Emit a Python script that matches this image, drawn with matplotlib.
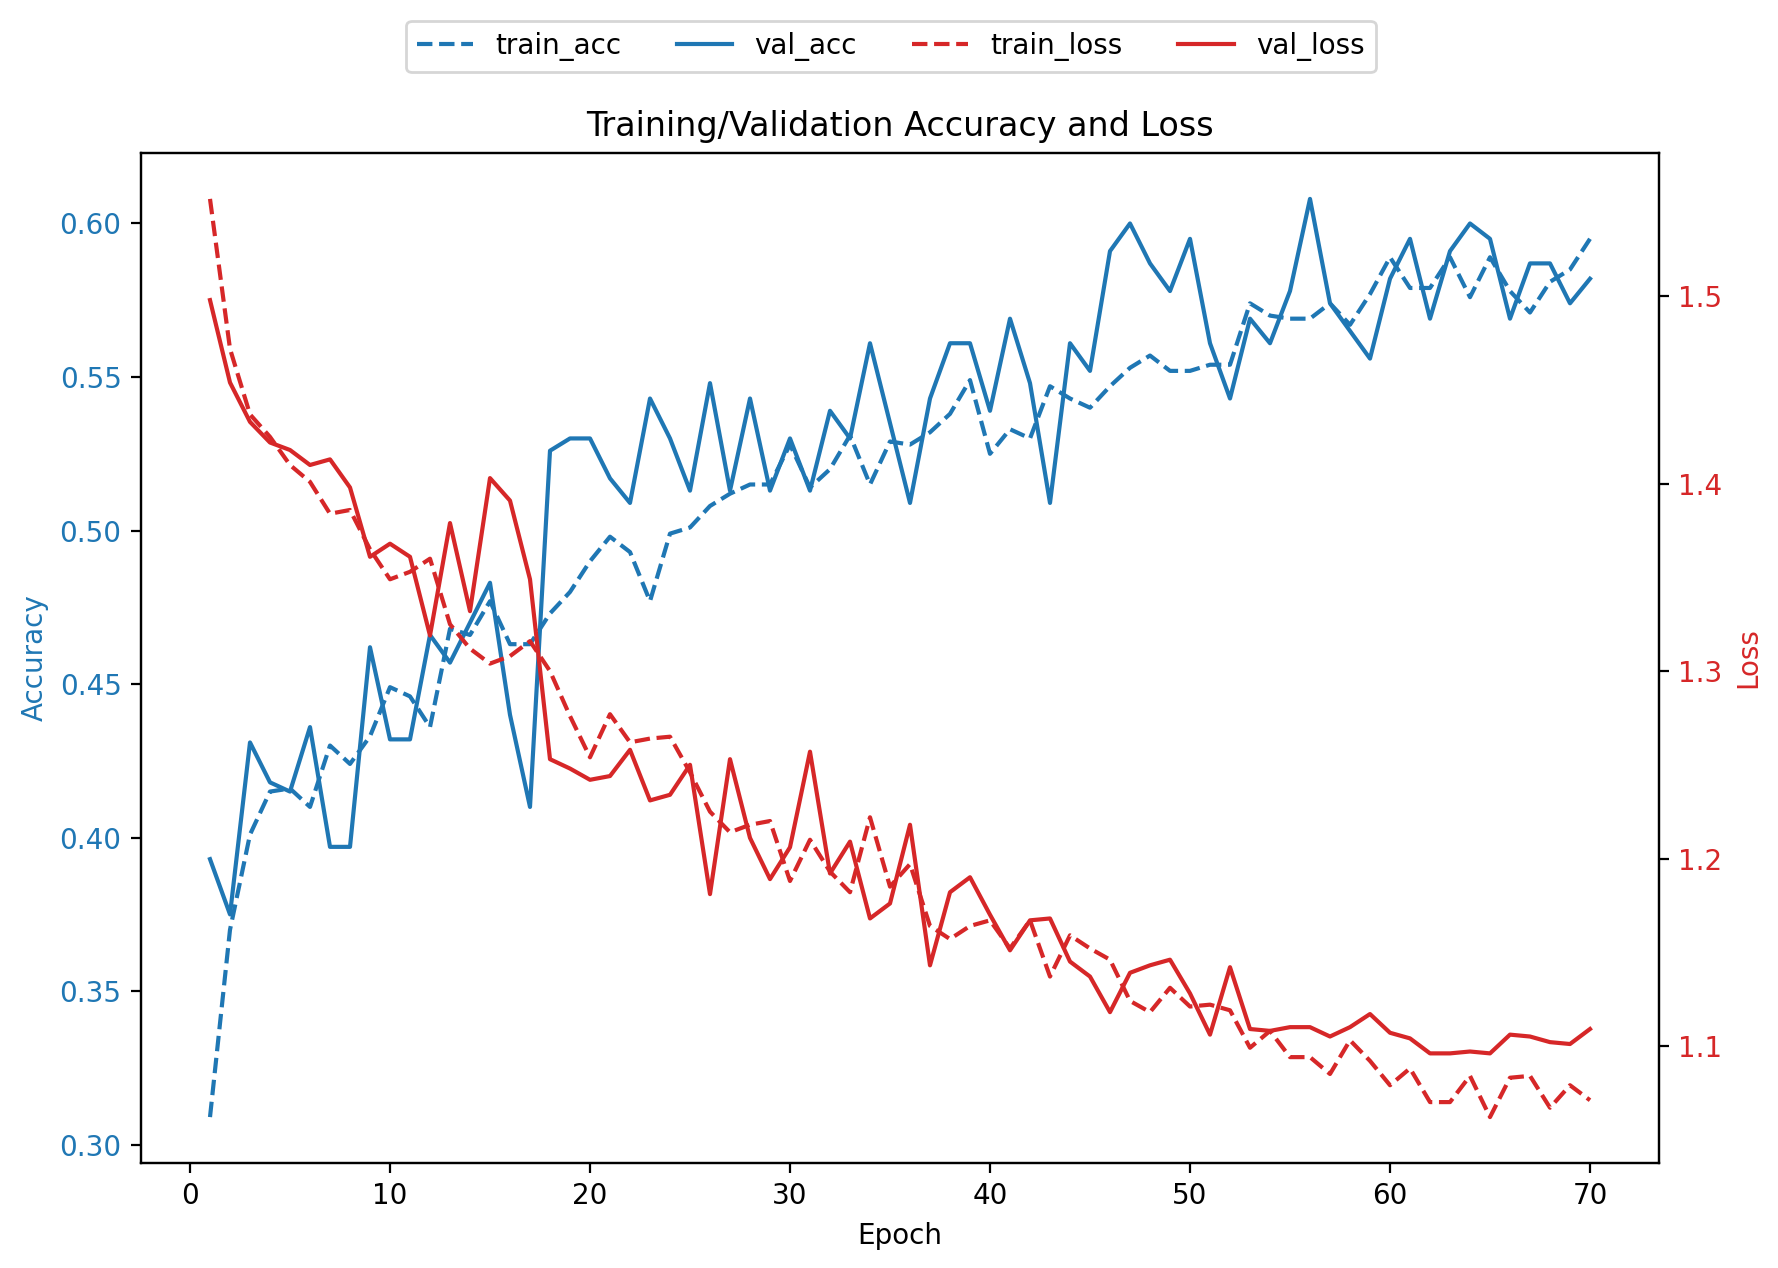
import numpy as np
import matplotlib
matplotlib.use("Agg")
import matplotlib.pyplot as plt

epochs = list(range(1, 71))

train_acc = [0.309, 0.370, 0.401, 0.415, 0.416, 0.410, 0.430, 0.424, 0.433, 0.449,
             0.446, 0.436, 0.468, 0.466, 0.477, 0.463, 0.463, 0.473, 0.480, 0.490,
             0.498, 0.493, 0.477, 0.499, 0.501, 0.508, 0.512, 0.515, 0.515, 0.528,
             0.514, 0.520, 0.531, 0.515, 0.529, 0.528, 0.532, 0.538, 0.549, 0.525,
             0.533, 0.530, 0.547, 0.543, 0.540, 0.547, 0.553, 0.557, 0.552, 0.552,
             0.554, 0.554, 0.574, 0.570, 0.569, 0.569, 0.574, 0.567, 0.577, 0.589,
             0.579, 0.579, 0.589, 0.576, 0.589, 0.578, 0.571, 0.581, 0.585, 0.595]

val_acc = [0.393, 0.375, 0.431, 0.418, 0.415, 0.436, 0.397, 0.397, 0.462, 0.432,
           0.432, 0.466, 0.457, 0.470, 0.483, 0.440, 0.410, 0.526, 0.530, 0.530,
           0.517, 0.509, 0.543, 0.530, 0.513, 0.548, 0.513, 0.543, 0.513, 0.530,
           0.513, 0.539, 0.530, 0.561, 0.535, 0.509, 0.543, 0.561, 0.561, 0.539,
           0.569, 0.548, 0.509, 0.561, 0.552, 0.591, 0.600, 0.587, 0.578, 0.595,
           0.561, 0.543, 0.569, 0.561, 0.578, 0.608, 0.574, 0.565, 0.556, 0.582,
           0.595, 0.569, 0.591, 0.600, 0.595, 0.569, 0.587, 0.587, 0.574, 0.582]

train_loss = [1.552, 1.472, 1.437, 1.425, 1.410, 1.401, 1.384, 1.386, 1.365, 1.349,
              1.353, 1.360, 1.325, 1.312, 1.304, 1.308, 1.316, 1.300, 1.276, 1.254,
              1.277, 1.262, 1.264, 1.265, 1.246, 1.225, 1.214, 1.218, 1.220, 1.188,
              1.210, 1.193, 1.182, 1.222, 1.185, 1.197, 1.164, 1.157, 1.164, 1.167,
              1.152, 1.167, 1.137, 1.159, 1.152, 1.146, 1.124, 1.118, 1.131, 1.121,
              1.122, 1.119, 1.099, 1.108, 1.094, 1.094, 1.085, 1.103, 1.092, 1.079,
              1.088, 1.070, 1.070, 1.084, 1.062, 1.083, 1.084, 1.067, 1.079, 1.071]

val_loss = [1.498, 1.454, 1.433, 1.422, 1.418, 1.410, 1.413, 1.398, 1.361, 1.368,
            1.361, 1.319, 1.379, 1.332, 1.403, 1.391, 1.349, 1.253, 1.248, 1.242,
            1.244, 1.258, 1.231, 1.234, 1.250, 1.181, 1.253, 1.211, 1.189, 1.206,
            1.257, 1.192, 1.209, 1.168, 1.176, 1.218, 1.143, 1.182, 1.190, 1.170,
            1.151, 1.167, 1.168, 1.145, 1.137, 1.118, 1.139, 1.143, 1.146, 1.128,
            1.106, 1.142, 1.109, 1.108, 1.110, 1.110, 1.105, 1.110, 1.117, 1.107,
            1.104, 1.096, 1.096, 1.097, 1.096, 1.106, 1.105, 1.102, 1.101, 1.109]

DPI = 200
fig = plt.figure(figsize=(1778 / DPI, 1268 / DPI), dpi=DPI)
ax1 = fig.add_axes([141 / 1778, 1 - 1163 / 1268, (1659 - 141) / 1778, (1163 - 153) / 1268])
ax2 = ax1.twinx()

l1, = ax1.plot(epochs, train_acc, "--", color="tab:blue", label="train_acc")
l2, = ax1.plot(epochs, val_acc, "-", color="tab:blue", label="val_acc")
l3, = ax2.plot(epochs, train_loss, "--", color="tab:red", label="train_loss")
l4, = ax2.plot(epochs, val_loss, "-", color="tab:red", label="val_loss")

ax1.set_xlabel("Epoch")
ax1.set_ylabel("Accuracy", color="tab:blue")
ax1.tick_params(axis="y", labelcolor="tab:blue")
ax2.set_ylabel("Loss", color="tab:red")
ax2.tick_params(axis="y", labelcolor="tab:red")
ax1.set_title("Training/Validation Accuracy and Loss")

fig.legend(handles=[l1, l2, l3, l4], loc="upper center", ncol=4,
           bbox_to_anchor=(0.501, 0.9945))

fig.savefig("out.png", dpi=DPI)
